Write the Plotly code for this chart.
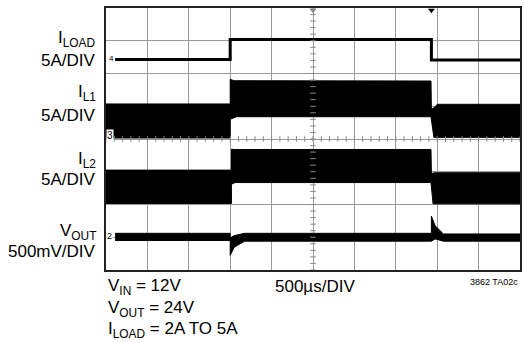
import plotly.graph_objects as go

# scope screen: 10 divisions across, 8 divisions high (units = divisions)
# I_LOAD trace
t_load = [0.22, 3.0, 3.0, 7.86, 7.86, 10.0]
i_load = [2.43, 2.43, 3.04, 3.04, 2.41, 2.41]

# I_L1 switching envelope (top / bottom edges)
t_l1_top = [0.0, 3.0, 3.0, 3.1, 7.85, 7.86, 7.95, 8.0, 10.0]
l1_top = [1.07, 1.07, 1.82, 1.78, 1.77, 0.9, 0.98, 1.06, 1.06]
t_l1_bot = [0.0, 3.0, 3.0, 3.06, 3.15, 7.85, 7.92, 10.0]
l1_bot = [0.03, 0.03, 0.60, 0.62, 0.68, 0.68, 0.05, 0.05]

# I_L2 switching envelope
t_l2_top = [0.0, 3.03, 3.03, 3.1, 7.85, 7.86, 7.95, 10.0]
l2_top = [-0.95, -0.95, -0.31, -0.32, -0.32, -1.05, -1.03, -1.03]
t_l2_bot = [0.0, 3.03, 3.03, 3.12, 7.85, 7.9, 10.0]
l2_bot = [-1.97, -1.97, -1.38, -1.33, -1.33, -1.98, -1.98]

# V_OUT trace (noise band)
t_v_top = [0.22, 3.0, 3.0, 3.1, 3.35, 7.86, 7.86, 7.95, 8.15, 10.0]
v_top = [-2.88, -2.88, -3.02, -2.95, -2.88, -2.88, -2.36, -2.65, -2.9, -2.9]
t_v_bot = [0.22, 3.0, 3.0, 3.1, 3.35, 7.86, 7.95, 8.15, 10.0]
v_bot = [-3.1, -3.1, -3.55, -3.3, -3.12, -3.12, -3.05, -3.12, -3.12]

# trigger markers on top edge
trig_x = [5.0, 7.86]
trig_col = ["#888888", "#000000"]

FONT = "Liberation Sans, Arial, sans-serif"
W, H = 524, 343
L, R, T, B = 106, 2, 8, 73
PW, PH = W - L - R, H - T - B


def px(x):
    return (x - L) / PW


def py(y):
    return 1 - (y - T) / PH


def band(tt, top, tb, bot):
    return go.Scatter(x=tt + tb[::-1], y=top + bot[::-1], fill="toself",
                      fillcolor="black", mode="lines",
                      line=dict(color="black", width=1),
                      hoverinfo="skip", showlegend=False)


fig = go.Figure()
fig.add_trace(band(t_l1_top, l1_top, t_l1_bot, l1_bot))
fig.add_trace(band(t_l2_top, l2_top, t_l2_bot, l2_bot))
fig.add_trace(band(t_v_top, v_top, t_v_bot, v_bot))
fig.add_trace(go.Scatter(x=t_load, y=i_load, mode="lines",
                         line=dict(color="black", width=3), showlegend=False))

# minor ticks along centre graticule lines
cx = [i * 0.2 for i in range(51)]
cy = [-4 + i * 0.2 for i in range(41)]
fig.add_trace(go.Scatter(x=cx, y=[0] * len(cx), mode="markers",
                         marker=dict(symbol="line-ns-open", size=4, color="#888888",
                                     line=dict(color="#888888", width=1)),
                         showlegend=False))
fig.add_trace(go.Scatter(x=[5] * len(cy), y=cy, mode="markers",
                         marker=dict(symbol="line-ew-open", size=4, color="#888888",
                                     line=dict(color="#888888", width=1)),
                         showlegend=False))
fig.add_trace(go.Scatter(x=trig_x, y=[3.93, 3.93], mode="markers",
                         marker=dict(symbol="triangle-down", size=6, color=trig_col),
                         showlegend=False, cliponaxis=False))

anns = []


def txt(s, x, y, size=17, xa="right", bg=None):
    d = dict(text=s, x=px(x), y=py(y), xref="paper", yref="paper", showarrow=False,
             xanchor=xa, yanchor="middle", font=dict(family=FONT, size=size, color="black"))
    if bg:
        d["bgcolor"] = bg
        d["borderpad"] = 0
    anns.append(d)


# left channel labels
txt("I<sub>LOAD</sub>", 98, 39)
txt("5A/DIV", 98, 60)
txt("I<sub>L1</sub>", 98, 93)
txt("5A/DIV", 98, 115)
txt("I<sub>L2</sub>", 98, 160)
txt("5A/DIV", 98, 179)
txt("V<sub>OUT</sub>", 98, 232)
txt("500mV/DIV", 98, 251)
# channel numbers
txt("4", 107, 59, size=8, xa="left")
txt("3", 106, 135, size=10, xa="left", bg="white")
txt("2", 106, 236, size=9, xa="left", bg="white")
# bottom notes
txt("V<sub>IN</sub> = 12V", 106, 287, xa="left")
txt("V<sub>OUT</sub> = 24V", 106, 309, xa="left")
txt("I<sub>LOAD</sub> = 2A TO 5A", 106, 330, xa="left")
txt("500µs/DIV", 274, 286, xa="left")
txt("3862 TA02c", 522, 282, size=9)

ax = dict(showgrid=True, gridcolor="#9a9a9a", gridwidth=1, zeroline=False,
          showticklabels=False, ticks="", showline=True, linecolor="#222222",
          linewidth=2, mirror=True, fixedrange=True)
fig.update_xaxes(range=[0, 10], dtick=1, **ax)
fig.update_yaxes(range=[-4, 4], dtick=1, **ax)
fig.update_layout(width=W, height=H, margin=dict(l=L, r=R, t=T, b=B),
                  plot_bgcolor="white", paper_bgcolor="white",
                  annotations=anns, showlegend=False)
# drop the default 8px body margin so the figure fills the window
fig.write_html("out.html", config={"displayModeBar": False},
               post_script="document.body.style.margin='0';")
